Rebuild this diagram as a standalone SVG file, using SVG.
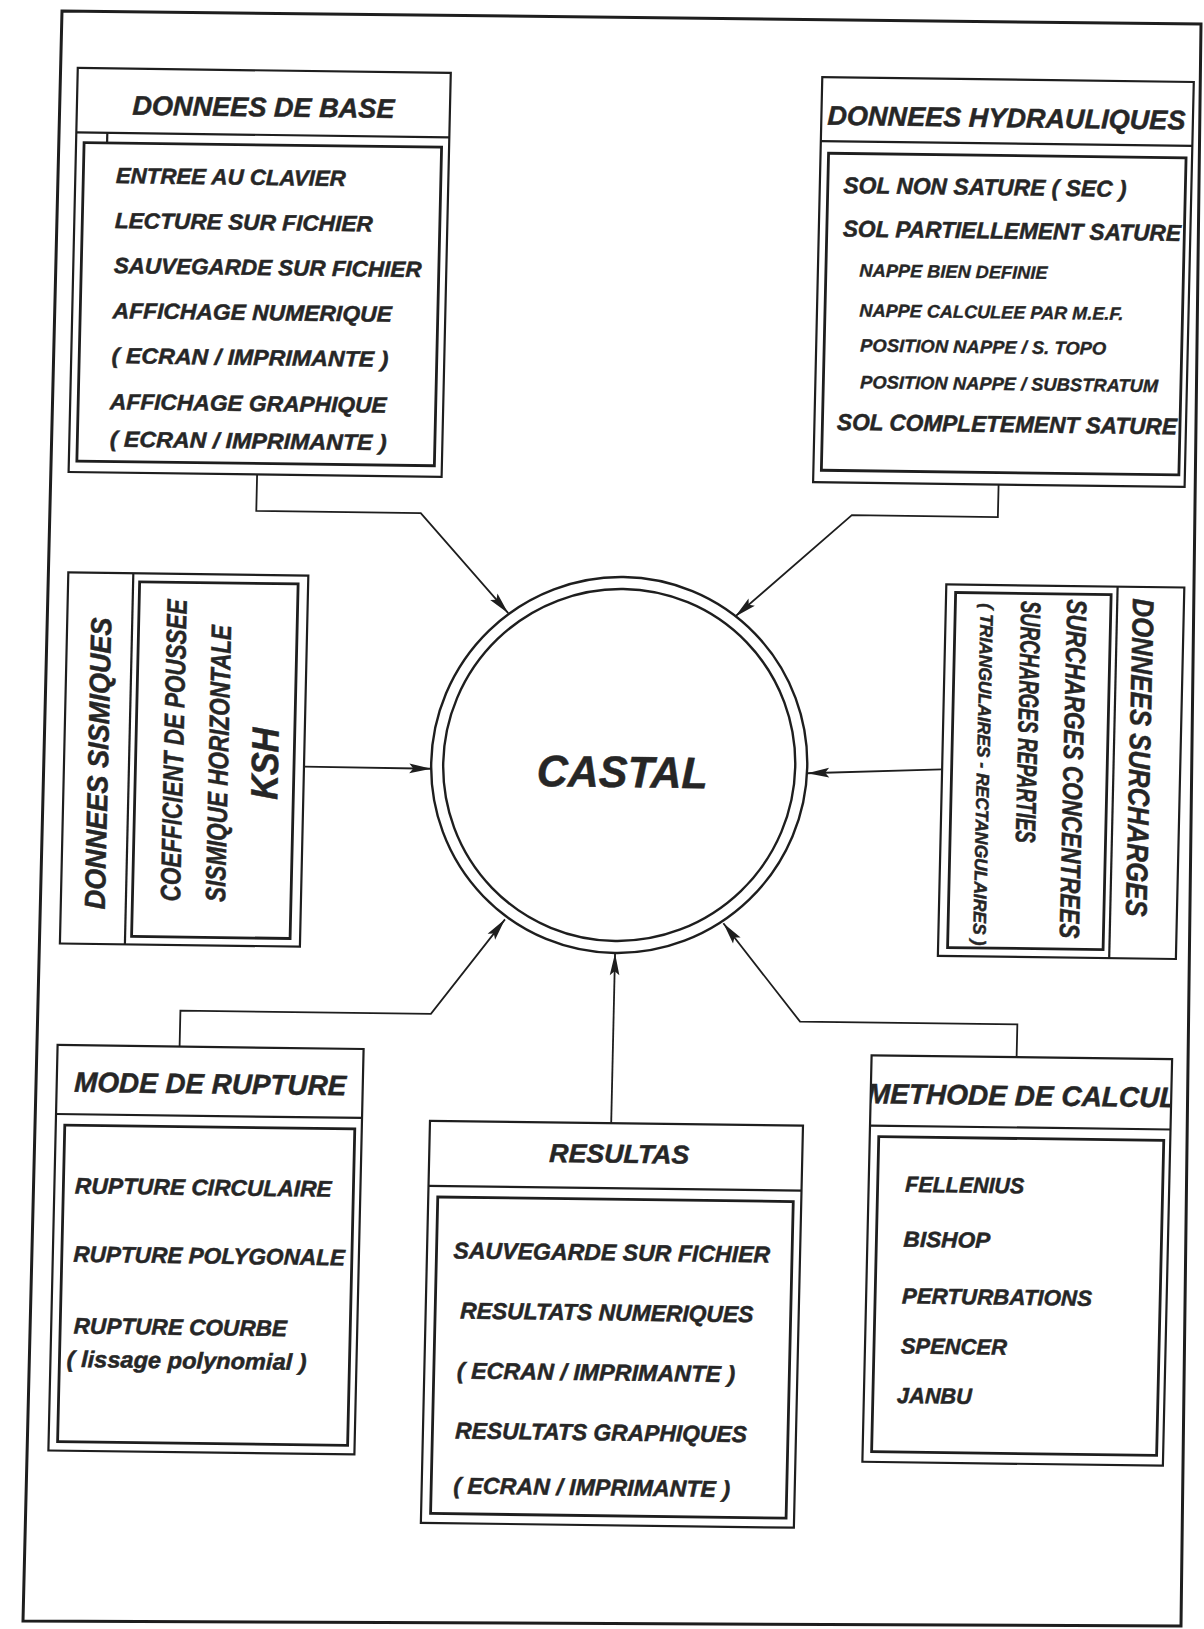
<svg xmlns="http://www.w3.org/2000/svg" width="1204" height="1629" viewBox="0 0 1204 1629">
<defs>
<style>
.o{fill:none;stroke:#1e1e1e;stroke-width:2.2}
.i{fill:none;stroke:#1e1e1e;stroke-width:2.8}
.c{fill:none;stroke:#1e1e1e;stroke-width:1.8}
.ring{fill:none;stroke:#1e1e1e;stroke-width:2.4}
text{font-family:"Liberation Sans",Arial,sans-serif;font-weight:bold;font-style:italic;fill:#262626;stroke:#262626;stroke-width:0.5}
.h27{font-size:27px}
.h28{font-size:28px}
.t22{font-size:22px}
.t23{font-size:23px}
.t18{font-size:18px;stroke-width:0.35}
</style>
<marker id="ah" viewBox="-24 -6 26 12" refX="0" refY="0" markerWidth="26" markerHeight="12" markerUnits="userSpaceOnUse" orient="auto">
<path d="M0,0 L-22,-4.8 L-18,0 L-22,4.8 Z" fill="#1e1e1e"/>
</marker>
<clipPath id="clipMeth"><rect x="877" y="1051.7" width="300.5" height="70.3"/></clipPath>
</defs>
<rect width="1204" height="1629" fill="#ffffff"/>
<polygon id="frame" points="62,11 1201,24 1181,1626 23,1621" fill="none" stroke="#1e1e1e" stroke-width="3"/>
<g transform="matrix(1 0.013 -0.0227 1 18.48 -7.83)">
<g id="connectors">
<polyline class="c" points="249.5,479 249.5,515.5 414,515.5 503.7,614.5" marker-end="url(#ah)"/>
<polyline class="c" points="991,479.5 991,512 845,512 730.5,615" marker-end="url(#ah)"/>
<polyline class="c" points="303,770.5 430.3,771" marker-end="url(#ah)"/>
<polyline class="c" points="941,765 806.2,770.6" marker-end="url(#ah)"/>
<polyline class="c" points="185,1052 185,1016 435.5,1016 507.4,920.6" marker-end="url(#ah)"/>
<polyline class="c" points="618.2,1123 618.2,953" marker-end="url(#ah)"/>
<polyline class="c" points="1022,1051.7 1022,1019 804.7,1019 725.8,921.7" marker-end="url(#ah)"/>
</g>
<g id="node-castal">
<circle class="ring" cx="618.1" cy="764.8" r="188"/>
<circle class="ring" cx="618.1" cy="764.8" r="176"/>
<text x="621.4" y="786.9" text-anchor="middle" font-size="44" textLength="171" lengthAdjust="spacingAndGlyphs">CASTAL</text>
</g>
<g id="node-donnees-base">
<rect class="o" x="61" y="75" width="373" height="404"/>
<line class="o" x1="61" y1="139.5" x2="434" y2="139.5"/>
<line class="o" x1="92" y1="139.5" x2="92" y2="149.5"/>
<rect class="i" x="69" y="149.5" width="357.5" height="318.5"/>
<text class="h27" x="247.5" y="121" text-anchor="middle" textLength="262" lengthAdjust="spacingAndGlyphs">DONNEES DE BASE</text>
<text class="t22" x="101.5" y="189.6" textLength="230" lengthAdjust="spacingAndGlyphs">ENTREE AU CLAVIER</text>
<text class="t22" x="101.5" y="234.6" textLength="258" lengthAdjust="spacingAndGlyphs">LECTURE SUR FICHIER</text>
<text class="t22" x="101.5" y="279.6" textLength="307.7" lengthAdjust="spacingAndGlyphs">SAUVEGARDE SUR FICHIER</text>
<text class="t22" x="101.5" y="324.7" textLength="279" lengthAdjust="spacingAndGlyphs">AFFICHAGE NUMERIQUE</text>
<text class="t22" x="101.5" y="369.7" textLength="276.6" lengthAdjust="spacingAndGlyphs">( ECRAN / IMPRIMANTE )</text>
<text class="t22" x="100.8" y="415.7" textLength="276.7" lengthAdjust="spacingAndGlyphs">AFFICHAGE GRAPHIQUE</text>
<text class="t22" x="101.5" y="453.1" textLength="276.7" lengthAdjust="spacingAndGlyphs">( ECRAN / IMPRIMANTE )</text>
</g>
<g id="node-donnees-hydrauliques">
<rect class="o" x="805.5" y="74.5" width="371.5" height="405"/>
<line class="o" x1="805.5" y1="138.5" x2="1177" y2="138.5"/>
<rect class="i" x="813.5" y="150.5" width="357.5" height="317"/>
<text class="h27" x="990.5" y="122.1" text-anchor="middle" textLength="358" lengthAdjust="spacingAndGlyphs">DONNEES HYDRAULIQUES</text>
<text class="t23" x="829.2" y="190.2" textLength="283" lengthAdjust="spacingAndGlyphs">SOL NON SATURE ( SEC )</text>
<text class="t23" x="829.6" y="233.6" textLength="338" lengthAdjust="spacingAndGlyphs">SOL PARTIELLEMENT SATURE</text>
<text class="t18" x="847.1" y="273.4" textLength="188" lengthAdjust="spacingAndGlyphs">NAPPE BIEN DEFINIE</text>
<text class="t18" x="848" y="313.4" textLength="264" lengthAdjust="spacingAndGlyphs">NAPPE CALCULEE PAR M.E.F.</text>
<text class="t18" x="849.5" y="348.3" textLength="246" lengthAdjust="spacingAndGlyphs">POSITION NAPPE / S. TOPO</text>
<text class="t18" x="850.3" y="385" textLength="298" lengthAdjust="spacingAndGlyphs">POSITION NAPPE / SUBSTRATUM</text>
<text class="t23" x="828" y="427" textLength="340" lengthAdjust="spacingAndGlyphs">SOL COMPLETEMENT SATURE</text>
</g>
<g id="node-donnees-sismiques">
<rect class="o" x="63" y="579.5" width="240" height="371"/>
<line class="o" x1="128" y1="579.5" x2="128" y2="950.5"/>
<rect class="i" x="134.5" y="588" width="158.5" height="354.5"/>
<text transform="translate(107,770) rotate(-90)" text-anchor="middle" font-size="29" textLength="292" lengthAdjust="spacingAndGlyphs">DONNEES SISMIQUES</text>
<text transform="translate(182,907) rotate(-90)" font-size="28" textLength="302" lengthAdjust="spacingAndGlyphs">COEFFICIENT DE POUSSEE</text>
<text transform="translate(227,907) rotate(-90)" font-size="28" textLength="277" lengthAdjust="spacingAndGlyphs">SISMIQUE HORIZONTALE</text>
<text transform="translate(277,768) rotate(-90)" text-anchor="middle" font-size="38" textLength="72" lengthAdjust="spacingAndGlyphs">KSH</text>
</g>
<g id="node-donnees-surcharges">
<rect class="o" x="941" y="580" width="238" height="371.5"/>
<line class="o" x1="1112.3" y1="580" x2="1112.3" y2="951.5"/>
<rect class="i" x="950.5" y="588" width="155.5" height="355"/>
<text transform="translate(1128,591.5) rotate(90)" font-size="30" textLength="318" lengthAdjust="spacingAndGlyphs">DONNEES SURCHARGES</text>
<text transform="translate(1062.3,593.3) rotate(90)" font-size="28" textLength="339" lengthAdjust="spacingAndGlyphs">SURCHARGES CONCENTREES</text>
<text transform="translate(1016.3,595.3) rotate(90)" font-size="28" textLength="242" lengthAdjust="spacingAndGlyphs">SURCHARGES REPARTIES</text>
<text transform="translate(975.8,598.4) rotate(90)" font-size="18" stroke-width="0.35" textLength="342" lengthAdjust="spacingAndGlyphs">( TRIANGULAIRES - RECTANGULAIRES )</text>
</g>
<g id="node-mode-rupture">
<rect class="o" x="63" y="1052" width="306" height="405.5"/>
<line class="o" x1="63" y1="1121" x2="369" y2="1121"/>
<rect class="i" x="72" y="1132" width="290" height="316.5"/>
<text class="h28" x="216.5" y="1098.6" text-anchor="middle" textLength="272" lengthAdjust="spacingAndGlyphs">MODE DE RUPTURE</text>
<text x="83.6" y="1200.2" font-size="22.5" textLength="256.7" lengthAdjust="spacingAndGlyphs">RUPTURE CIRCULAIRE</text>
<text x="83.5" y="1268.6" font-size="22.5" textLength="271.7" lengthAdjust="spacingAndGlyphs">RUPTURE POLYGONALE</text>
<text x="85.5" y="1340.2" font-size="22.5" textLength="213.3" lengthAdjust="spacingAndGlyphs">RUPTURE COURBE</text>
<text class="t23" x="79.2" y="1373.7" textLength="240" lengthAdjust="spacingAndGlyphs">( lissage polynomial )</text>
</g>
<g id="node-resultas">
<rect class="o" x="437" y="1123" width="373" height="402"/>
<line class="o" x1="437" y1="1188" x2="810" y2="1188"/>
<rect class="i" x="446.5" y="1199" width="355.5" height="316.5"/>
<text x="627" y="1162.5" text-anchor="middle" font-size="26" textLength="140" lengthAdjust="spacingAndGlyphs">RESULTAS</text>
<text class="t23" x="463.4" y="1260.2" textLength="316.7" lengthAdjust="spacingAndGlyphs">SAUVEGARDE SUR FICHIER</text>
<text class="t23" x="471.5" y="1320.2" textLength="293.3" lengthAdjust="spacingAndGlyphs">RESULTATS NUMERIQUES</text>
<text class="t23" x="469.5" y="1380.2" textLength="278.3" lengthAdjust="spacingAndGlyphs">( ECRAN / IMPRIMANTE )</text>
<text class="t23" x="469.2" y="1440.2" textLength="291.7" lengthAdjust="spacingAndGlyphs">RESULTATS GRAPHIQUES</text>
<text class="t23" x="468.7" y="1495.2" textLength="276.7" lengthAdjust="spacingAndGlyphs">( ECRAN / IMPRIMANTE )</text>
</g>
<g id="node-methode-calcul">
<rect class="o" x="877" y="1051.7" width="300.5" height="406.5"/>
<line class="o" x1="877" y1="1122" x2="1177.5" y2="1122"/>
<rect class="i" x="886" y="1133" width="285" height="315"/>
<text class="h28" x="1028" y="1099.8" text-anchor="middle" clip-path="url(#clipMeth)">METHODE DE CALCUL</text>
<text class="t22" x="913.6" y="1187.8" textLength="119" lengthAdjust="spacingAndGlyphs">FELLENIUS</text>
<text class="t22" x="913.1" y="1242.8" textLength="86.7" lengthAdjust="spacingAndGlyphs">BISHOP</text>
<text class="t22" x="912.8" y="1299.4" textLength="190" lengthAdjust="spacingAndGlyphs">PERTURBATIONS</text>
<text class="t22" x="912.9" y="1349.4" textLength="106" lengthAdjust="spacingAndGlyphs">SPENCER</text>
<text class="t22" x="910.1" y="1398.9" textLength="75" lengthAdjust="spacingAndGlyphs">JANBU</text>
</g>
</g>
</svg>
